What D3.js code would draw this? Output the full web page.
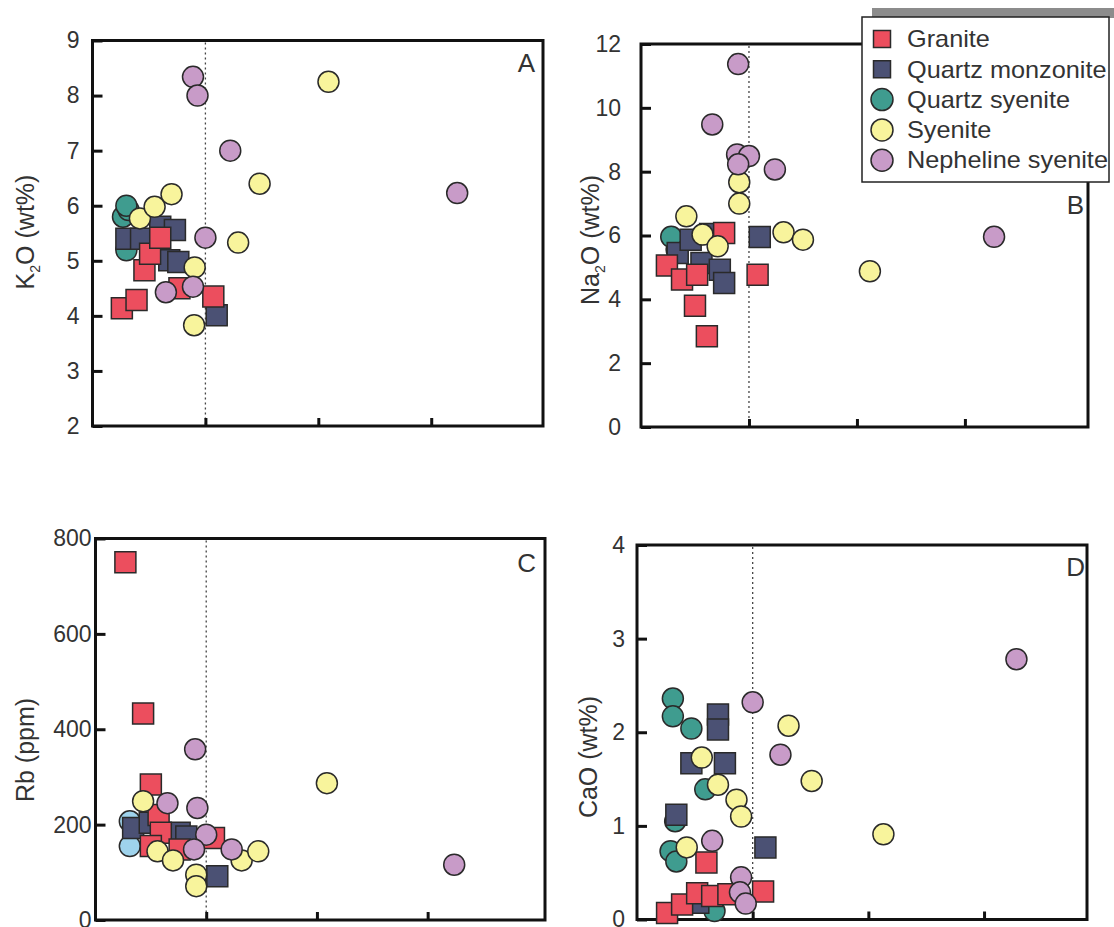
<!DOCTYPE html>
<html>
<head>
<meta charset="utf-8">
<script src="https://cdn.jsdelivr.net/npm/d3@7"></script>
<style>
  body { margin: 0; background: #fff; }
  text { font-family: "Liberation Sans", Arial, sans-serif; }
</style>
</head>
<body>
<div id="chart"></div>
<script>
const rockTypes = ["Granite", "Quartz monzonite", "Quartz syenite", "Syenite", "Nepheline syenite"];
const rockShapes = ["square", "square", "circle", "circle", "circle"];
const rockColors = ["#ec4e5e", "#4b5174", "#3f9c8f", "#f8f49c", "#c89bc8"];

// A: K2O (wt%)
const graniteA = [[0.26,4.14],[0.39,4.29],[0.46,4.83],[0.51,5.13],[0.60,5.42],[0.77,4.50],[1.07,4.35]];
const monzA = [[0.30,5.40],[0.43,5.40],[0.60,5.62],[0.73,5.56],[0.68,5.01],[0.76,4.98],[1.10,4.01]];
const qsyA = [[0.27,5.80],[0.32,5.92],[0.30,6.00],[0.30,5.19]];
const syA = [[0.42,5.77],[0.55,5.98],[0.70,6.21],[0.905,4.88],[0.90,3.83],[1.29,5.33],[1.48,6.40],[2.09,8.25]];
const nephA = [[0.89,8.34],[0.93,8.00],[1.22,7.00],[1.00,5.42],[0.65,4.43],[0.89,4.53],[3.23,6.23]];

// B: Na2O (wt%)
const graniteB = [[0.24,5.06],[0.38,4.62],[0.52,4.77],[0.50,3.80],[0.61,2.84],[1.08,4.77],[0.77,6.08]];
const monzB = [[0.34,5.45],[0.46,5.87],[0.56,5.14],[0.64,6.05],[0.73,4.93],[0.77,4.51],[1.10,5.95]];
const qsyB = [[0.33,5.55],[0.28,5.96]];
const syB = [[0.42,6.60],[0.57,6.03],[0.71,5.66],[0.91,7.67],[0.91,7.00],[1.32,6.10],[1.50,5.87],[2.12,4.88]];
const nephB = [[0.90,11.37],[0.66,9.48],[0.89,8.54],[1.00,8.49],[0.90,8.23],[1.24,8.07],[3.27,5.96]];

// C: Rb (ppm)
const graniteC = [[0.27,750],[0.43,433],[0.50,284],[0.57,220],[0.59,183],[0.50,155],[0.76,148],[1.07,172]];
const monzC = [[0.34,193],[0.49,204],[0.76,183],[0.82,175],[1.10,92]];
const qsyC = [[0.31,207],[0.31,155]];
const syC = [[0.43,249],[0.56,144],[0.70,125],[0.91,95],[0.91,71],[1.32,125],[1.47,144],[2.09,287]];
const nephC = [[0.90,358],[0.65,245],[0.92,235],[1.00,179],[0.89,148],[1.23,148],[3.24,116]];

// D: CaO (wt%)
const graniteD = [[0.26,0.07],[0.39,0.16],[0.52,0.28],[0.65,0.25],[0.79,0.27],[1.09,0.30],[0.60,0.61]];
const monzD = [[0.70,2.19],[0.70,2.03],[0.47,1.67],[0.76,1.67],[0.34,1.12],[1.11,0.77],[0.53,0.18]];
const qsyD = [[0.33,1.05],[0.31,2.36],[0.31,2.17],[0.47,2.04],[0.59,1.39],[0.29,0.73],[0.34,0.62],[0.67,0.09]];
const syD = [[0.56,1.73],[0.70,1.44],[0.86,1.28],[0.90,1.10],[0.43,0.77],[1.31,2.07],[1.51,1.48],[2.13,0.91]];
const nephD = [[1.00,2.32],[1.24,1.76],[0.65,0.84],[0.90,0.45],[0.89,0.29],[0.94,0.17],[3.28,2.78]];

const yTicksA = [2, 3, 4, 5, 6, 7, 8, 9];
const yTicksB = [0, 2, 4, 6, 8, 10, 12];
const yTicksC = [0, 200, 400, 600, 800];
const yTicksD = [0, 1, 2, 3, 4];
const xTicks = [1, 2, 3];

const panels = [
  { letter: "A", sets: [graniteA, monzA, qsyA, syA, nephA], yTicks: yTicksA, title: ["K", "2", "O (wt%)"],
    left: 92.5, right: 543, top: 40.5, bottom: 426, xMax: 3.99, pad: 13, titleX: 25, titleY: 232, letterX: 535, letterY: 63 },
  { letter: "B", sets: [graniteB, monzB, qsyB, syB, nephB], yTicks: yTicksB, title: ["Na", "2", "O (wt%)"],
    left: 641, right: 1088, top: 44, bottom: 427, xMax: 4.14, pad: 20, titleX: 590, titleY: 240, letterX: 1084, letterY: 205 },
  { letter: "C", sets: [graniteC, monzC, qsyC, syC, nephC], yTicks: yTicksC, title: ["Rb (ppm)"],
    left: 95.5, right: 545, top: 538.5, bottom: 920, xMax: 4.06, pad: 4, titleX: 25, titleY: 750, letterX: 536, letterY: 563, qsyColor: "#9fd3ec" },
  { letter: "D", sets: [graniteD, monzD, qsyD, syD, nephD], yTicks: yTicksD, title: ["CaO (wt%)"],
    left: 637, right: 1087, top: 545, bottom: 919.5, xMax: 3.89, pad: 12, titleX: 588, titleY: 757, letterX: 1085, letterY: 567 }
];

const svg = d3.select("#chart").append("svg")
  .attr("width", 1114)
  .attr("height", 927)
  .style("background", "#fff");

const drawOrder = [2, 1, 0, 3, 4];

panels.forEach(p => {
  const x = d3.scaleLinear().domain([0, p.xMax]).range([p.left, p.right]);
  const y = d3.scaleLinear().domain([p.yTicks[0], p.yTicks[p.yTicks.length - 1]]).range([p.bottom, p.top]);
  const g = svg.append("g");

  // frame
  g.append("rect")
    .attr("x", p.left).attr("y", p.top)
    .attr("width", p.right - p.left).attr("height", p.bottom - p.top)
    .attr("fill", "none").attr("stroke", "#111").attr("stroke-width", 3);

  // dotted reference line
  g.append("line")
    .attr("x1", x(1)).attr("x2", x(1))
    .attr("y1", p.top + 2).attr("y2", p.bottom)
    .attr("stroke", "#444").attr("stroke-width", 1.3)
    .attr("stroke-dasharray", "2,3");

  const yAxis = g.append("g")
    .attr("transform", `translate(${p.left},0)`)
    .call(d3.axisLeft(y).tickValues(p.yTicks).tickSize(-10).tickPadding(p.pad).tickFormat(d3.format("d")));
  yAxis.select(".domain").remove();
  yAxis.selectAll(".tick line").attr("stroke", "#111").attr("stroke-width", 3);
  yAxis.selectAll(".tick text")
    .style("font-size", "23px").attr("fill", "#333")
    .style("font-family", "'Liberation Sans', Arial, sans-serif");

  const xAxis = g.append("g")
    .attr("transform", `translate(0,${p.bottom})`)
    .call(d3.axisBottom(x).tickValues(xTicks).tickSize(-8).tickFormat(""));
  xAxis.select(".domain").remove();
  xAxis.selectAll(".tick line").attr("stroke", "#111").attr("stroke-width", 3);

  // points
  drawOrder.forEach(i => {
    const fill = (i === 2 && p.qsyColor) ? p.qsyColor : rockColors[i];
    g.append("g").selectAll("path")
      .data(p.sets[i])
      .enter()
      .append("path")
      .attr("transform", d => `translate(${x(d[0])},${y(d[1])})`)
      .attr("d", rockShapes[i] === "square"
        ? d3.symbol(d3.symbolSquare, 441)()
        : d3.symbol(d3.symbolCircle, 346)())
      .attr("fill", fill)
      .attr("stroke", "#2a2a2a")
      .attr("stroke-width", 1.5);
  });

  // panel letter
  g.append("text")
    .attr("x", p.letterX).attr("y", p.letterY).attr("dy", "0.35em")
    .attr("text-anchor", "end")
    .style("font-size", "26px").attr("fill", "#333")
    .text(p.letter);

  // axis title
  const t = g.append("text")
    .attr("transform", `translate(${p.titleX},${p.titleY}) rotate(-90)`)
    .attr("text-anchor", "middle")
    .attr("dy", "0.35em")
    .style("font-size", "25px").attr("fill", "#333");
  if (p.title.length === 3) {
    t.append("tspan").text(p.title[0]);
    t.append("tspan").attr("dy", 6).style("font-size", "14px").text(p.title[1]);
    t.append("tspan").attr("dy", -6).text(p.title[2]);
  } else {
    t.text(p.title[0]);
  }
});

// legend
const legend = svg.append("g");
legend.append("rect")
  .attr("x", 872).attr("y", 8).attr("width", 242).attr("height", 10)
  .attr("fill", "#8c8c8c");
legend.append("rect")
  .attr("x", 862).attr("y", 17).attr("width", 247).attr("height", 165)
  .attr("fill", "#fff").attr("stroke", "#222").attr("stroke-width", 1.5);

rockTypes.forEach((name, i) => {
  const cy = 39 + i * 30.3;
  legend.append("path")
    .attr("transform", `translate(882,${cy})`)
    .attr("d", rockShapes[i] === "square"
      ? d3.symbol(d3.symbolSquare, 289)()
      : d3.symbol(d3.symbolCircle, 380)())
    .attr("fill", rockColors[i])
    .attr("stroke", "#2a2a2a").attr("stroke-width", 1.5);
  legend.append("text")
    .attr("transform", `translate(907,${cy}) scale(1.1,1)`)
    .attr("dy", "0.36em")
    .style("font-size", "23px").attr("fill", "#333")
    .text(name);
});
</script>
</body>
</html>
